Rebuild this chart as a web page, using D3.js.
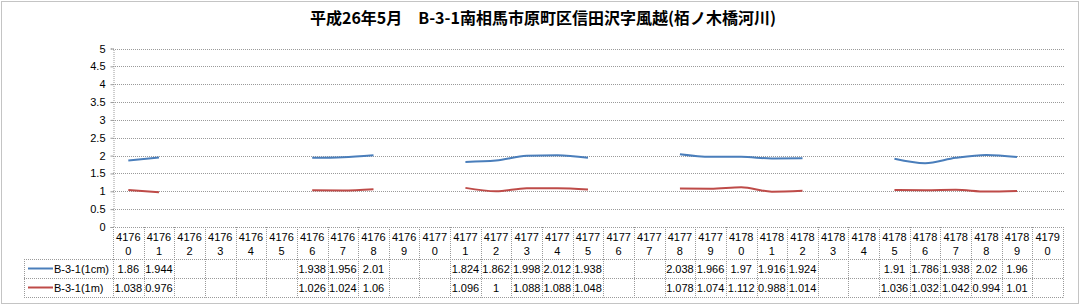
<!DOCTYPE html>
<html>
<head>
<meta charset="utf-8">
<script src="https://d3js.org/d3.v7.min.js"></script>
<style>
  body { margin:0; background:#fff; }
  svg text { font-family: "Liberation Sans", Arial, sans-serif; fill:#000; }
  .grid { stroke:#9a9a9a; stroke-dasharray:1,1; fill:none; }
</style>
</head>
<body>
<svg width="1081" height="306"></svg>
<script>
// data
var categories = [41760,41761,41762,41763,41764,41765,41766,41767,41768,41769,41770,
                  41771,41772,41773,41774,41775,41776,41777,41778,41779,41780,
                  41781,41782,41783,41784,41785,41786,41787,41788,41789,41790];
var cmValues = [1.86,1.944,null,null,null,null,1.938,1.956,2.01,null,null,
                1.824,1.862,1.998,2.012,1.938,null,null,2.038,1.966,1.97,
                1.916,1.924,null,null,1.91,1.786,1.938,2.02,1.96,null];
var mValues = [1.038,0.976,null,null,null,null,1.026,1.024,1.06,null,null,
               1.096,1,1.088,1.088,1.048,null,null,1.078,1.074,1.112,
               0.988,1.014,null,null,1.036,1.032,1.042,0.994,1.01,null];
var yTicks = [0,0.5,1,1.5,2,2.5,3,3.5,4,4.5,5];
var series = [
  {name:"B-3-1(1cm)", values:cmValues, color:"#4a7ebb"},
  {name:"B-3-1(1m)", values:mValues, color:"#be4b48"}
];
var title = "平成26年5月　B-3-1南相馬市原町区信田沢字風越(栢ノ木橋河川)";

(function(){
var svg = d3.select("svg");
var left = 113, right = 1063, plotTop = 48.5, bottom = 227;

// outer frame
svg.append("rect").attr("x",1.5).attr("y",1.5).attr("width",1077).attr("height",302)
  .attr("fill","none").attr("stroke","#888").attr("stroke-dasharray","1,1");

svg.append("text").attr("x",543).attr("y",24).attr("text-anchor","middle")
  .style("font-family","'Noto Sans CJK JP', sans-serif").style("font-weight","bold")
  .style("font-size","16px").text(title);

var xs = d3.scaleBand().domain(categories).range([left,right]);
var ys = d3.scaleLinear().domain([0,5]).range([bottom,plotTop]);

// gridlines
svg.append("g").selectAll("line").data(yTicks).enter().append("line")
  .attr("class","grid")
  .attr("x1",left).attr("x2",right+1)
  .attr("y1",function(d){return Math.round(ys(d))+0.5;})
  .attr("y2",function(d){return Math.round(ys(d))+0.5;});

// y axis
var yAxis = d3.axisLeft(ys).tickValues(yTicks).tickSize(3).tickFormat(function(d){return d;});
var ga = svg.append("g").attr("transform","translate("+(left+0.5)+",0)").call(yAxis);
ga.select(".domain").attr("stroke","#9a9a9a").attr("stroke-dasharray","1,1");
ga.selectAll(".tick line").attr("stroke","#9a9a9a");
ga.selectAll(".tick text").attr("x",-8).style("font-size","11px").attr("fill","#000");

// lines
var line = d3.line()
  .defined(function(d){return d != null;})
  .x(function(d,i){return xs(categories[i]) + xs.bandwidth()/2;})
  .y(function(d){return ys(d);})
  .curve(d3.curveMonotoneX);
series.forEach(function(s){
  svg.append("path").datum(s.values).attr("d",line)
    .attr("fill","none").attr("stroke",s.color).attr("stroke-width",2);
});

// data table
var rowTops = [227, 259, 278, 297];
var tbl = svg.append("g");
var gridStroke = function(sel){ return sel.attr("stroke","#9a9a9a").attr("stroke-dasharray","1,1").attr("fill","none"); };

// horizontal lines
gridStroke(tbl.append("line").attr("x1",left).attr("x2",right+0.5).attr("y1",227.5).attr("y2",227.5));
[259,278,297].forEach(function(y){
  gridStroke(tbl.append("line").attr("x1",24).attr("x2",right+0.5).attr("y1",y+0.5).attr("y2",y+0.5));
});
// vertical lines
categories.concat(["end"]).forEach(function(c,i){
  var x = (i < categories.length ? xs(c) : right);
  gridStroke(tbl.append("line").attr("x1",Math.round(x)+0.5).attr("x2",Math.round(x)+0.5)
    .attr("y1",227).attr("y2",297.5));
});
gridStroke(tbl.append("line").attr("x1",24.5).attr("x2",24.5).attr("y1",259).attr("y2",297.5));

// header labels
var hdr = tbl.selectAll("text.hdr").data(categories).enter().append("text")
  .attr("class","hdr").attr("text-anchor","middle").style("font-size","11px");
hdr.append("tspan").attr("x",function(d){return xs(d)+xs.bandwidth()/2;}).attr("y",241)
  .text(function(d){return String(d).slice(0,4);});
hdr.append("tspan").attr("x",function(d){return xs(d)+xs.bandwidth()/2;}).attr("y",255)
  .text(function(d){return String(d).slice(4);});

// rows
series.forEach(function(s,r){
  var y0 = rowTops[r+1], y1 = rowTops[r+2], yc = (y0+y1)/2;
  tbl.append("line").attr("x1",28).attr("x2",53).attr("y1",yc).attr("y2",yc)
    .attr("stroke",s.color).attr("stroke-width",2);
  tbl.append("text").attr("x",54).attr("y",yc+4).style("font-size","11px").text(s.name);
  tbl.selectAll("text.v"+r).data(s.values).enter().append("text")
    .attr("class","v"+r).attr("text-anchor","middle").style("font-size","11px")
    .attr("x",function(d,i){return xs(categories[i])+xs.bandwidth()/2;})
    .attr("y",yc+4)
    .text(function(d){return d == null ? "" : d;});
});
})();
</script>
</body>
</html>
